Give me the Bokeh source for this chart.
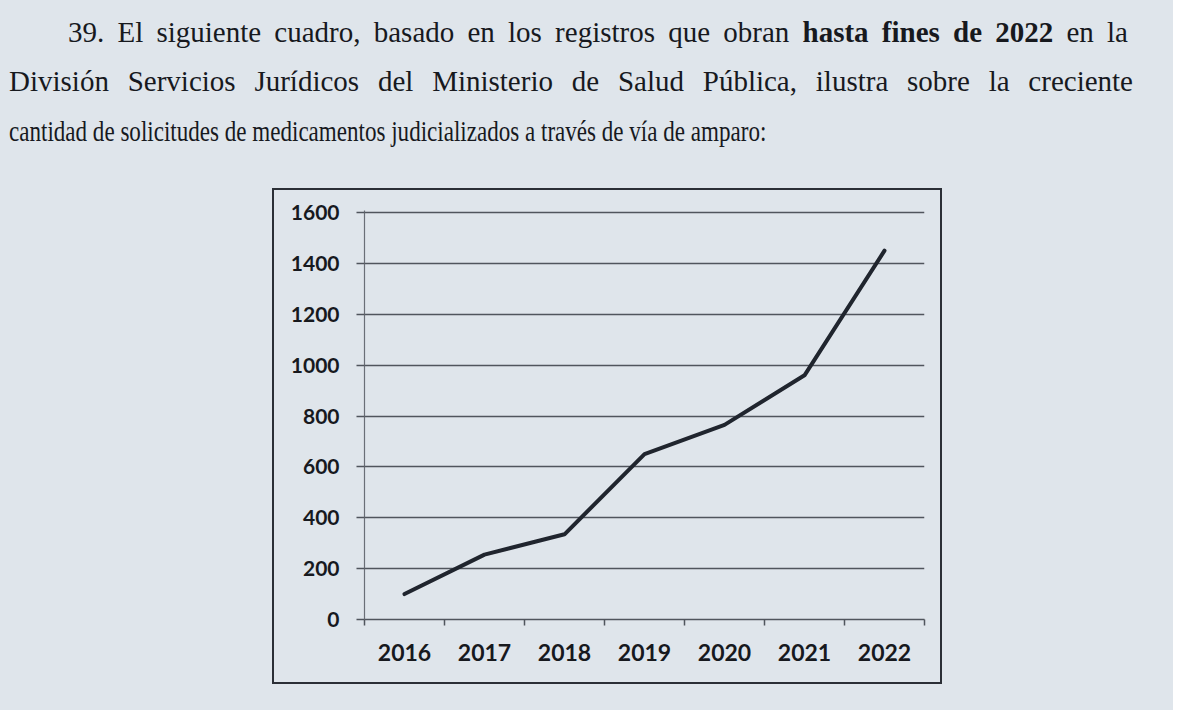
from bokeh.plotting import figure
from bokeh.models import Div, Spacer, FixedTicker, Range1d
from bokeh.layouts import column, row
from bokeh.embed import file_html
from bokeh.resources import INLINE

# ---- data ----
years = ["2016", "2017", "2018", "2019", "2020", "2021", "2022"]
solicitudes = [100, 255, 335, 650, 765, 960, 1450]
y_ticks = [0, 200, 400, 600, 800, 1000, 1200, 1400, 1600]

line1 = '39. El siguiente cuadro, basado en los registros que obran <b>hasta fines de 2022</b> en la'
line2 = 'División Servicios Jurídicos del Ministerio de Salud Pública, ilustra sobre la creciente'
line3 = 'cantidad de solicitudes de medicamentos judicializados a través de vía de amparo:'

PAPER = "#dfe5eb"
INK = "#17191e"

base = ("position:absolute; font-family:'Liberation Serif', serif; font-size:29px; "
        "line-height:48px; height:48px; color:%s; text-align:justify; "
        "text-align-last:justify; white-space:nowrap;" % INK)
html = (
    '<div style="position:relative; width:1163px; height:178px;">'
    f'<div style="{base} top:3px; left:63px; width:1060px;">{line1}</div>'
    f'<div style="{base} top:52px; left:4px; width:1124px;">{line2}</div>'
    f'<div style="{base} top:102px; left:4px; text-align:left; text-align-last:left; '
    f'transform:scaleX(0.795); transform-origin:0 0;">{line3}</div>'
    '</div>'
)
div = Div(text=html, width=1163, height=178)

# ---- chart ----
xs = [i + 0.5 for i in range(len(years))]
bounds = list(range(len(years) + 1))

p = figure(width=670, height=496, x_range=Range1d(0, len(years)), y_range=Range1d(0, 1608),
           output_backend="svg", toolbar_location=None,
           min_border_left=90, min_border_right=20, min_border_top=20, min_border_bottom=67,
           background_fill_color=PAPER, border_fill_color=PAPER, outline_line_color=None,
           styles={"border": "2px solid #2b2f36"})

p.line(xs, solicitudes, line_width=4, color="#20252e", line_join="round", line_cap="round")

p.ygrid.ticker = FixedTicker(ticks=y_ticks)
p.ygrid.grid_line_color = "#50555d"
p.ygrid.grid_line_width = 1.6
p.xgrid.visible = False

ya = p.yaxis[0]
ya.ticker = FixedTicker(ticks=y_ticks)
ya.axis_line_color = "#6a6f77"
ya.axis_line_width = 1.2
ya.major_tick_line_color = "#50555d"
ya.major_tick_line_width = 1.6
ya.major_tick_in = 0
ya.major_tick_out = 8
ya.minor_tick_line_color = None
ya.major_label_standoff = 17
ya.major_label_text_font = "Lato"
ya.major_label_text_font_style = "bold"
ya.major_label_text_font_size = "21px"
ya.major_label_text_color = INK

xa = p.xaxis[0]
xa.ticker = FixedTicker(ticks=xs, minor_ticks=bounds)
xa.major_label_overrides = {x: y for x, y in zip(xs, years)}
xa.axis_line_color = "#50555d"
xa.axis_line_width = 1.6
xa.major_tick_line_color = None
xa.major_tick_in = 0
xa.major_tick_out = 0
xa.minor_tick_line_color = "#50555d"
xa.minor_tick_line_width = 1.5
xa.minor_tick_in = 0
xa.minor_tick_out = 6
xa.major_label_standoff = 18
xa.major_label_text_font = "Lato"
xa.major_label_text_font_style = "bold"
xa.major_label_text_font_size = "23px"
xa.major_label_text_color = INK

layout = column(
    div,
    row(Spacer(width=272, height=500), p),
    Spacer(width=1163, height=22),
    styles={"background": PAPER},
)

open("out.html", "w").write(file_html(layout, INLINE))
